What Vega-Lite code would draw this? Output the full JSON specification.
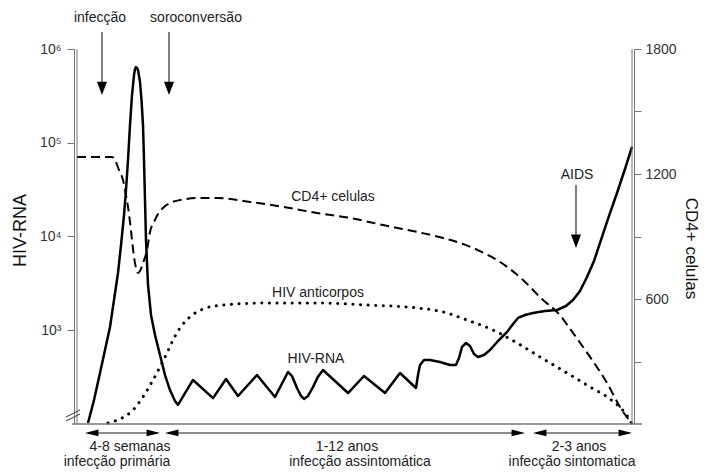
{
  "$schema": "https://vega.github.io/schema/vega-lite/v6.json",
  "width": 555,
  "height": 375,
  "autosize": {"type": "none"},
  "padding": {"left": 77, "top": 49, "right": 76, "bottom": 48},
  "config": {"view": {"stroke": null}, "font": "Liberation Sans"},
  "datasets": {
    "rna": [
      {"t":88,"v":102.5},{"t":94,"v":180},{"t":100,"v":350},{"t":105,"v":615},{"t":110,"v":1083},{"t":114,"v":2102},{"t":118,"v":4080},{"t":121,"v":8110},{"t":124,"v":16950},{"t":126,"v":31330},{"t":128,"v":65460},{"t":130,"v":154600},{"t":132,"v":323000},{"t":134,"v":528000},{"t":135,"v":612000},{"t":136,"v":642700},{"t":137,"v":625000},{"t":138,"v":597000},{"t":140,"v":444600},{"t":141.5,"v":285800},{"t":143,"v":154600},{"t":144,"v":65460},{"t":145,"v":24500},{"t":146,"v":9180},{"t":148,"v":3040},{"t":151,"v":1455},{"t":155,"v":889},{"t":160,"v":545},{"t":165,"v":333},{"t":170,"v":230},{"t":175,"v":176},{"t":178,"v":160},
      {"t":193,"v":295},{"t":213,"v":189},{"t":226,"v":302},{"t":238,"v":199},{"t":257,"v":333},{"t":275,"v":194},{"t":288,"v":359},{"t":292,"v":325},{"t":297,"v":242},{"t":301,"v":199},{"t":304,"v":185},{"t":308,"v":199},{"t":313,"v":248},{"t":318,"v":320},{"t":323,"v":377},{"t":348,"v":214},{"t":364,"v":325},{"t":385,"v":214},{"t":400,"v":350},{"t":416,"v":242},
      {"t":418,"v":333},{"t":420,"v":426},{"t":424,"v":482},{"t":430,"v":482},{"t":440,"v":458},{"t":450,"v":426},{"t":456,"v":426},{"t":459,"v":506},{"t":462,"v":663},{"t":466,"v":731},{"t":470,"v":679},{"t":474,"v":558},{"t":478,"v":518},{"t":484,"v":545},{"t":490,"v":615},{"t":498,"v":768},{"t":507,"v":958},{"t":513,"v":1166},{"t":518,"v":1352},{"t":525,"v":1455},{"t":533,"v":1528},{"t":545,"v":1604},{"t":557,"v":1644},{"t":566,"v":1814},{"t":573,"v":2102},{"t":580,"v":2623},{"t":587,"v":3700},{"t":594,"v":5480},{"t":600,"v":8530},{"t":608,"v":15380},{"t":617,"v":29100},{"t":625,"v":52480},{"t":632,"v":90100}
    ],
    "cd4": [
      {"t":77,"v":1282},{"t":112,"v":1282},{"t":115,"v":1267},{"t":119,"v":1219},{"t":123,"v":1171},{"t":126,"v":1099},{"t":128,"v":1042},{"t":130,"v":970},{"t":132,"v":883},{"t":134,"v":802},{"t":136,"v":749},{"t":138,"v":725},{"t":140,"v":734},{"t":143,"v":773},{"t":147,"v":835},{"t":150,"v":922},{"t":154,"v":970},{"t":158,"v":1008},{"t":163,"v":1037},{"t":170,"v":1061},{"t":180,"v":1075},{"t":200,"v":1085},{"t":217,"v":1085},{"t":250,"v":1066},{"t":283,"v":1042},{"t":317,"v":1013},{"t":350,"v":989},{"t":383,"v":955},{"t":417,"v":922},{"t":443,"v":893},{"t":463,"v":864},{"t":480,"v":830},{"t":497,"v":787},{"t":510,"v":744},{"t":523,"v":691},{"t":543,"v":595},{"t":558,"v":533},{"t":573,"v":437},{"t":590,"v":322},{"t":607,"v":197},{"t":620,"v":82},{"t":632,"v":0}
    ],
    "ab": [
      {"t":108,"v":5},{"t":120,"v":24},{"t":133,"v":67},{"t":143,"v":130},{"t":153,"v":211},{"t":160,"v":274},{"t":167,"v":341},{"t":173,"v":403},{"t":180,"v":461},{"t":190,"v":514},{"t":203,"v":552},{"t":223,"v":571},{"t":267,"v":581},{"t":317,"v":581},{"t":367,"v":571},{"t":417,"v":557},{"t":443,"v":538},{"t":467,"v":499},{"t":493,"v":451},{"t":517,"v":389},{"t":540,"v":322},{"t":567,"v":245},{"t":590,"v":178},{"t":610,"v":120},{"t":627,"v":40},{"t":632,"v":0}
    ],
    "labels": [
      {"t":100,"v":1949,"text":"infecção"},
      {"t":196,"v":1949,"text":"soroconversão"},
      {"t":577,"v":1195,"text":"AIDS"},
      {"t":333,"v":1090,"text":"CD4+ celulas"},
      {"t":318,"v":629,"text":"HIV anticorpos"},
      {"t":316,"v":312,"text":"HIV-RNA"},
      {"t":130,"v":-110,"text":"4-8 semanas"},
      {"t":117,"v":-182,"text":"infecção primária"},
      {"t":347,"v":-110,"text":"1-12 anos"},
      {"t":360,"v":-182,"text":"infecção assintomática"},
      {"t":579,"v":-110,"text":"2-3 anos"},
      {"t":572,"v":-182,"text":"infecção sintomatica"}
    ],
    "vspans": [
      {"t":102,"v":1882,"v2":1590},
      {"t":169,"v":1882,"v2":1590},
      {"t":576,"v":1147,"v2":855}
    ],
    "hspans": [
      {"t":88,"t2":157,"v":-43},
      {"t":168,"t2":522,"v":-43},
      {"t":536,"t2":629,"v":-43}
    ],
    "heads": [
      {"t":102,"v":1579,"dir":"D"},
      {"t":169,"v":1579,"dir":"D"},
      {"t":576,"v":845,"dir":"D"},
      {"t":85,"v":-43,"dir":"L"},
      {"t":160,"v":-43,"dir":"R"},
      {"t":165,"v":-43,"dir":"L"},
      {"t":525,"v":-43,"dir":"R"},
      {"t":533,"v":-43,"dir":"L"},
      {"t":632,"v":-43,"dir":"R"}
    ],
    "frame": [
      {"t":72,"t2":642,"v":0}
    ],
    "vlines": [{"t":77,"v":0,"v2":1800},{"t":632,"v":0,"v2":1800}],
    "brk": [
      {"t":66,"t2":80,"v":14,"v2":48},
      {"t":66,"t2":80,"v":34,"v2":67}
    ]
  },
  "layer": [
    {
      "data": {"name": "rna"},
      "mark": {"type": "line", "color": "black", "strokeWidth": 2.5, "strokeJoin": "round"},
      "encoding": {
        "x": {"field": "t", "type": "quantitative", "scale": {"domain": [77, 632], "nice": false}, "axis": null},
        "y": {
          "field": "v", "type": "quantitative",
          "scale": {"type": "log", "domain": [100, 1000000], "nice": false},
          "axis": {
            "orient": "left", "offset": 3, "values": [1000, 10000, 100000, 1000000],
            "labelExpr": "datum.value >= 1000000 ? '10⁶' : datum.value >= 100000 ? '10⁵' : datum.value >= 10000 ? '10⁴' : '10³'",
            "grid": false, "tickSize": 7, "tickColor": "#777", "domainColor": "#777",
            "labelFontSize": 14, "labelColor": "#333", "labelPadding": 6,
            "title": "HIV-RNA", "titleFontSize": 18, "titleFontWeight": "normal", "titleColor": "#111",
            "titlePadding": 10, "titleY": 181
          }
        }
      }
    },
    {
      "encoding": {
        "x": {"field": "t", "type": "quantitative", "scale": {"domain": [77, 632], "nice": false}, "axis": null},
        "y": {
          "field": "v", "type": "quantitative",
          "scale": {"domain": [0, 1800], "nice": false},
          "axis": {
            "orient": "right", "offset": 2, "values": [300, 600, 900, 1200, 1500, 1800],
            "labelExpr": "datum.value % 600 == 0 ? datum.label : ''",
            "format": "d",
            "grid": false, "tickSize": 7, "tickColor": "#777", "domainColor": "#777",
            "labelFontSize": 14, "labelColor": "#333", "labelPadding": 4,
            "title": "CD4+ celulas", "titleFontSize": 17, "titleFontWeight": "normal", "titleColor": "#111",
            "titlePadding": 5, "titleY": 199
          }
        }
      },
      "layer": [
        {
          "data": {"name": "cd4"},
          "mark": {"type": "line", "color": "black", "strokeWidth": 2, "strokeDash": [9, 5], "interpolate": "monotone"}
        },
        {
          "data": {"name": "ab"},
          "mark": {"type": "line", "color": "black", "strokeWidth": 3, "strokeDash": [0.1, 7.5], "strokeCap": "round", "interpolate": "monotone"}
        },
        {
          "data": {"name": "vlines"},
          "mark": {"type": "rule", "color": "#777", "strokeWidth": 1},
          "encoding": {"y2": {"field": "v2"}}
        },
        {
          "data": {"name": "frame"},
          "mark": {"type": "rule", "color": "#777", "strokeWidth": 1.5},
          "encoding": {"x2": {"field": "t2"}}
        },
        {
          "data": {"name": "brk"},
          "mark": {"type": "rule", "color": "#555", "strokeWidth": 1.2},
          "encoding": {"x2": {"field": "t2"}, "y2": {"field": "v2"}}
        },
        {
          "data": {"name": "vspans"},
          "mark": {"type": "rule", "color": "black", "strokeWidth": 1},
          "encoding": {"y2": {"field": "v2"}}
        },
        {
          "data": {"name": "hspans"},
          "mark": {"type": "rule", "color": "#666", "strokeWidth": 1.5},
          "encoding": {"x2": {"field": "t2"}}
        },
        {
          "data": {"name": "heads"},
          "mark": {"type": "point", "filled": true, "color": "black", "opacity": 1, "size": 180, "strokeWidth": 0},
          "encoding": {
            "shape": {
              "field": "dir", "type": "nominal", "legend": null,
              "scale": {"domain": ["L", "R", "D"], "range": ["M0,0L2,-0.5L2,0.5Z", "M0,0L-2,-0.5L-2,0.5Z", "M0,0L-0.75,-2L0.75,-2Z"]}
            }
          }
        },
        {
          "data": {"name": "labels"},
          "mark": {"type": "text", "fontSize": 14, "color": "#222", "baseline": "middle", "align": "center"},
          "encoding": {"text": {"field": "text"}}
        }
      ]
    }
  ],
  "resolve": {"scale": {"y": "independent"}}
}
